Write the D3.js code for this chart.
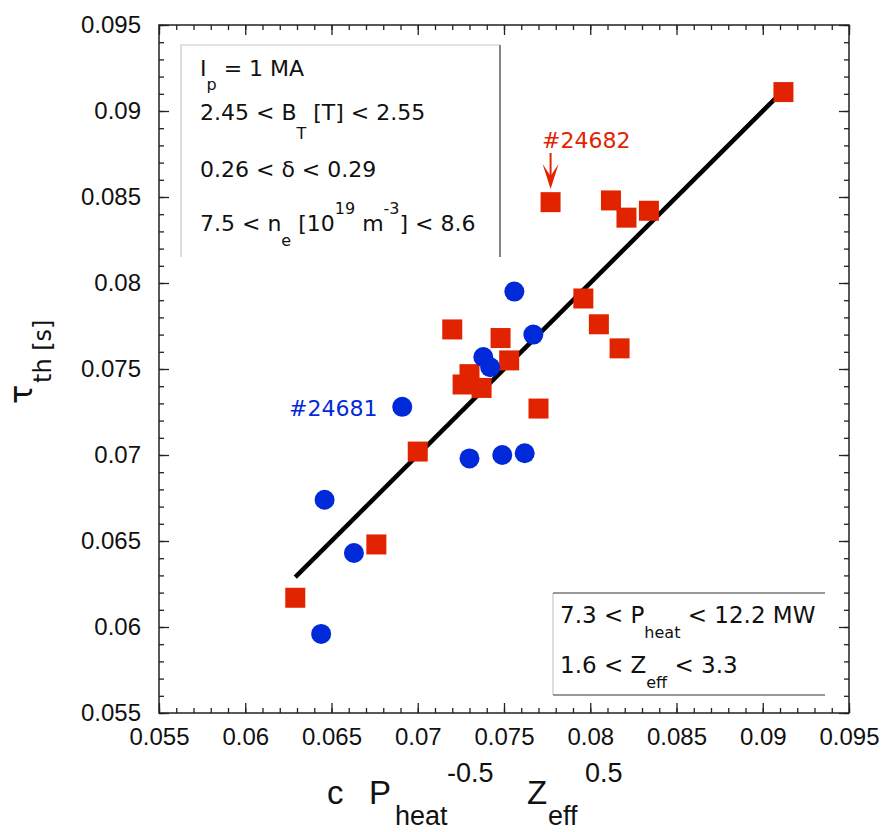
<!DOCTYPE html>
<html>
<head>
<meta charset="utf-8">
<script src="https://cdn.jsdelivr.net/npm/d3@7/dist/d3.min.js"></script>
<style>
  body { margin: 0; background: #fff; }
  svg { display: block; }
  .tick text { font-family: "Liberation Sans", Arial, sans-serif; font-size: 24px; fill: #111; }
  .ann { font-family: "DejaVu Sans", Verdana, sans-serif; fill: #111; }
</style>
</head>
<body>
<svg id="chart" width="885" height="832"></svg>
<script>
// tau_th vs scaling  c * P_heat^-0.5 * Z_eff^0.5
var redX = [0.0629, 0.0676, 0.0700, 0.0720, 0.0748, 0.0753, 0.0730, 0.0726, 0.0737, 0.0770,
            0.0777, 0.0812, 0.0821, 0.0834, 0.0796, 0.0805, 0.0817, 0.0912];
var redY = [0.0617, 0.0648, 0.0702, 0.0773, 0.0768, 0.0755, 0.0747, 0.0741, 0.0739, 0.0727,
            0.0847, 0.0848, 0.0838, 0.0842, 0.0791, 0.0776, 0.0762, 0.0911];
var blueX = [0.0646, 0.0663, 0.0644, 0.0691, 0.0730, 0.0749, 0.0762, 0.0738, 0.0742, 0.0756, 0.0767];
var blueY = [0.0674, 0.0643, 0.0596, 0.0728, 0.0698, 0.0700, 0.0701, 0.0757, 0.0751, 0.0795, 0.0770];
var fitX = [0.0629, 0.0912];
var fitY = [0.0629, 0.0912];
var xTickLabels = ["0.055", "0.06", "0.065", "0.07", "0.075", "0.08", "0.085", "0.09", "0.095"];
var yTickLabels = ["0.055", "0.06", "0.065", "0.07", "0.075", "0.08", "0.085", "0.09", "0.095"];

var RED = "#e12300";
var BLUE = "#0029d9";

var svg = d3.select("#chart");
var plotL = 159, plotR = 849, plotT = 25, plotB = 713;

var x = d3.scaleLinear().domain([0.055, 0.095]).range([plotL, plotR]);
var y = d3.scaleLinear().domain([0.055, 0.095]).range([plotB, plotT]);

var minor = d3.range(55, 96).map(function (d) { return d / 1000; });
var xMajor = xTickLabels.map(Number);
var yMajor = yTickLabels.map(Number);

function styleAxis(g) {
    g.select(".domain").remove();
    g.selectAll(".tick line").attr("stroke", "#222").attr("stroke-width", 1.3);
}

// major ticks with labels, bottom + left
svg.append("g").attr("transform", "translate(0," + plotB + ")")
    .call(d3.axisBottom(x).tickValues(xMajor).tickSize(-10).tickPadding(15)
        .tickFormat(function (d, i) { return xTickLabels[i]; }))
    .call(styleAxis);
svg.append("g").attr("transform", "translate(" + plotL + ",0)")
    .call(d3.axisLeft(y).tickValues(yMajor).tickSize(-10).tickPadding(18)
        .tickFormat(function (d, i) { return yTickLabels[i]; }))
    .call(styleAxis);
// top + right major ticks
svg.append("g").attr("transform", "translate(0," + plotT + ")")
    .call(d3.axisTop(x).tickValues(xMajor).tickSize(-10).tickFormat(""))
    .call(styleAxis);
svg.append("g").attr("transform", "translate(" + plotR + ",0)")
    .call(d3.axisRight(y).tickValues(yMajor).tickSize(-10).tickFormat(""))
    .call(styleAxis);
// minor ticks on all four sides
svg.append("g").attr("transform", "translate(0," + plotB + ")")
    .call(d3.axisBottom(x).tickValues(minor).tickSize(-5).tickFormat("")).call(styleAxis);
svg.append("g").attr("transform", "translate(0," + plotT + ")")
    .call(d3.axisTop(x).tickValues(minor).tickSize(-5).tickFormat("")).call(styleAxis);
svg.append("g").attr("transform", "translate(" + plotL + ",0)")
    .call(d3.axisLeft(y).tickValues(minor).tickSize(-5).tickFormat("")).call(styleAxis);
svg.append("g").attr("transform", "translate(" + plotR + ",0)")
    .call(d3.axisRight(y).tickValues(minor).tickSize(-5).tickFormat("")).call(styleAxis);

// frame
svg.append("rect")
    .attr("x", plotL).attr("y", plotT)
    .attr("width", plotR - plotL).attr("height", plotB - plotT)
    .style("fill", "none").style("stroke", "#222").style("stroke-width", 1.5);

// top-left parameter box (open at the bottom)
svg.append("path").attr("d", "M181,257V45H500")
    .style("fill", "none").style("stroke", "#c8c8c8").style("stroke-width", 1.2);
svg.append("line").attr("x1", 500).attr("x2", 500).attr("y1", 45).attr("y2", 257)
    .style("stroke", "#333").style("stroke-width", 1.2);

// bottom-right box
svg.append("line").attr("x1", 553).attr("x2", 553).attr("y1", 593).attr("y2", 695)
    .style("stroke", "#c8c8c8").style("stroke-width", 1.2);
svg.append("line").attr("x1", 553).attr("x2", 825).attr("y1", 593).attr("y2", 593)
    .style("stroke", "#333").style("stroke-width", 1.2);
svg.append("line").attr("x1", 553).attr("x2", 825).attr("y1", 695).attr("y2", 695)
    .style("stroke", "#333").style("stroke-width", 1.2);

// fit line y = x
svg.append("line")
    .attr("x1", x(fitX[0])).attr("y1", y(fitY[0]))
    .attr("x2", x(fitX[1])).attr("y2", y(fitY[1]))
    .style("stroke", "#000").style("stroke-width", 4.5);

// points
var SQ = 20;
svg.append("g").selectAll("rect").data(redX).enter().append("rect")
    .attr("x", function (d) { return x(d) - SQ / 2; })
    .attr("y", function (d, i) { return y(redY[i]) - SQ / 2; })
    .attr("width", SQ).attr("height", SQ)
    .style("fill", RED);
svg.append("g").selectAll("circle").data(blueX).enter().append("circle")
    .attr("cx", function (d) { return x(d); })
    .attr("cy", function (d, i) { return y(blueY[i]); })
    .attr("r", 10)
    .style("fill", BLUE);

// shot labels
var ax = x(redX[10]);
svg.append("text").attr("class", "ann").attr("x", 542).attr("y", 148)
    .style("font-size", "22px").style("fill", RED).text("#24682");
svg.append("line").attr("x1", ax).attr("x2", ax).attr("y1", 153).attr("y2", 182)
    .style("stroke", RED).style("stroke-width", 2);
svg.append("path")
    .attr("d", "M" + (ax - 8) + ",164L" + ax + ",189L" + (ax + 8) + ",164L" + ax + ",176Z")
    .style("fill", RED);
svg.append("text").attr("class", "ann").attr("x", 289).attr("y", 416)
    .style("font-size", "22px").style("fill", BLUE).text("#24681");

// helper for text with sub/superscripts: parts = [[text, shift, size]]
function richText(tx, ty, size, parts) {
    var t = svg.append("text").attr("class", "ann").attr("x", tx).attr("y", ty)
        .style("font-size", size + "px");
    var prev = 0;
    parts.forEach(function (p) {
        t.append("tspan")
            .attr("dy", p[1] - prev)
            .style("font-size", (p[2] || size) + "px")
            .text(p[0]);
        prev = p[1];
    });
    return t;
}

richText(200, 76, 22, [["I", 0], ["p", 14, 16], [" = 1 MA", 0]]);
richText(200, 120, 22, [["2.45 < B", 0], ["T", 19, 16], [" [T] < 2.55", 0]]);
richText(200, 177, 22, [["0.26 < \u03b4 < 0.29", 0]]);
richText(200, 231, 22, [["7.5 < n", 0], ["e", 15, 16], [" [10", 0], ["19", -17, 16], [" m", 0], ["-3", -17, 16], ["] < 8.6", 0]]);

richText(560, 623, 23, [["7.3 < P", 0], ["heat", 15, 16], [" < 12.2 MW", 0]]);
richText(560, 673, 23, [["1.6 < Z", 0], ["eff", 15, 16], [" < 3.3", 0]]);

// x axis title
var xt = svg.append("text")
    .style("font-family", "'Liberation Sans', Arial, sans-serif").style("fill", "#111");
xt.append("tspan").attr("x", 327).attr("y", 804).style("font-size", "33px").text("c");
xt.append("tspan").attr("x", 369).attr("y", 804).style("font-size", "33px").text("P");
xt.append("tspan").attr("x", 395).attr("y", 825).style("font-size", "27px").text("heat");
xt.append("tspan").attr("x", 447).attr("y", 782).style("font-size", "27px").text("-0.5");
xt.append("tspan").attr("x", 527).attr("y", 804).style("font-size", "33px").text("Z");
xt.append("tspan").attr("x", 548).attr("y", 825).style("font-size", "27px").text("eff");
xt.append("tspan").attr("x", 585).attr("y", 782).style("font-size", "27px").text("0.5");

// y axis title (rotated)
var yt = svg.append("text").attr("class", "ann").attr("transform", "rotate(-90)");
yt.append("tspan").attr("x", -404).attr("y", 32).style("font-size", "32px").text("\u03c4");
yt.append("tspan").attr("x", -383).attr("y", 51).style("font-size", "24px").text("th [s]");
</script>
</body>
</html>
